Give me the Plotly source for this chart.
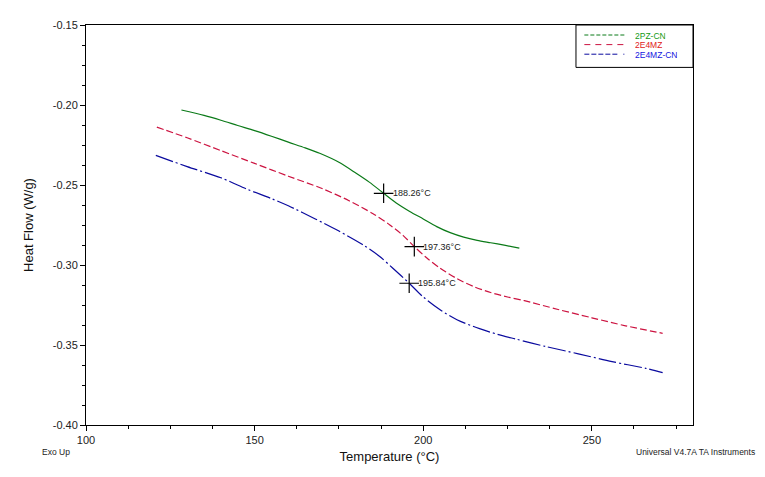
import plotly.graph_objects as go

# ---- data ----
series_names = ["2PZ-CN", "2E4MZ", "2E4MZ-CN"]

t_2pz_cn = [128.3, 135, 140, 145, 150, 155, 160, 165, 169.3, 175, 180, 184, 188.26,
            192, 196, 200, 204, 208, 212, 216, 220, 224, 228.5]
hf_2pz_cn = [-0.2031, -0.2065, -0.2095, -0.2128, -0.2160, -0.2195, -0.2232, -0.2268, -0.2302,
             -0.2358, -0.2425, -0.2482, -0.2552, -0.2612, -0.2665, -0.2712, -0.2760, -0.2798,
             -0.2826, -0.2846, -0.2861, -0.2876, -0.2895]

t_2e4mz = [121, 130, 140, 150, 160, 170, 178, 185, 190, 194, 197.36, 201, 205, 210, 215,
           220, 225, 230, 240, 250, 260, 271]
hf_2e4mz = [-0.2138, -0.2205, -0.2285, -0.2365, -0.2445, -0.2522, -0.2598, -0.2678, -0.2748,
            -0.2815, -0.2885, -0.2955, -0.3020, -0.3085, -0.3135, -0.3172, -0.3200, -0.3223,
            -0.3278, -0.3330, -0.3380, -0.3427]

t_2e4mz_cn = [120.7, 130, 140, 148, 155, 160, 168, 175, 182, 187, 191, 195.84, 200, 205, 210,
              216.7, 222, 227.5, 236.4, 246, 256, 266, 271]
hf_2e4mz_cn = [-0.2315, -0.2385, -0.2455, -0.2528, -0.2585, -0.2630, -0.2712, -0.2788, -0.2872,
               -0.2945, -0.3020, -0.3114, -0.3200, -0.3280, -0.3342, -0.3398, -0.3433, -0.3463,
               -0.3510, -0.3555, -0.3604, -0.3646, -0.3673]

tg_temp = [188.26, 197.36, 195.84]
tg_hf = [-0.2552, -0.2885, -0.3114]
tg_labels = ["188.26°C", "197.36°C", "195.84°C"]

x_ticks = [100, 150, 200, 250]
y_ticks = [-0.40, -0.35, -0.30, -0.25, -0.20, -0.15]

# ---- styles ----
line_colors = ["#0b7a18", "#cc1340", "#0a0a9e"]
legend_text_colors = ["#149a14", "#e01818", "#1414e0"]
dashes = ["solid", "7px,3px", "18px,3px,2px,3px"]
legend_dashes = ["4px,2px", "6px,5px", "5px,2px,5px,2px,5px,2px,5px,2px,5px,6px,1px,3px"]

fig = go.Figure()
for name, xs, ys, c, d in zip(series_names,
                               [t_2pz_cn, t_2e4mz, t_2e4mz_cn],
                               [hf_2pz_cn, hf_2e4mz, hf_2e4mz_cn],
                               line_colors, dashes):
    fig.add_trace(go.Scatter(x=xs, y=ys, mode="lines", name=name, showlegend=False,
                             line=dict(color=c, width=1.2, dash=d, shape="spline", smoothing=0.8)))

fig.add_trace(go.Scatter(x=tg_temp, y=tg_hf, mode="markers", showlegend=False,
                         marker=dict(symbol="cross-thin-open", size=14, color="black",
                                     line=dict(color="black", width=1.2))))

for tx, ty, lab in zip(tg_temp, tg_hf, tg_labels):
    fig.add_annotation(x=tx, y=ty, xref="x", yref="y", text=lab, showarrow=False,
                       xanchor="left", yanchor="middle", xshift=7,
                       font=dict(family="Liberation Sans, Arial", size=9, color="#222"))

# manual legend box (top-right inside plot frame)
fig.add_shape(type="rect", xref="paper", yref="paper", x0=0.8072, x1=1.0, y0=0.894, y1=1.0,
              line=dict(color="black", width=1), fillcolor="white", layer="above")
leg_rows = [0.975, 0.951, 0.927]
for name, yy, c, tc, d in zip(series_names, leg_rows, line_colors, legend_text_colors, legend_dashes):
    fig.add_shape(type="line", xref="paper", yref="paper", x0=0.821, x1=0.888, y0=yy, y1=yy,
                  line=dict(color=c, width=1, dash=d), layer="above")
    fig.add_annotation(xref="paper", yref="paper", x=0.9012, y=yy, text=name, showarrow=False,
                       xanchor="left", yanchor="middle", height=9,
                       font=dict(family="Liberation Sans, Arial", size=8.5, color=tc))

# bottom notes
fig.add_annotation(xref="paper", yref="paper", x=(40 - 86) / 607, y=(425 - 452) / 400,
                   text="Exo Up", showarrow=False, xanchor="left", yanchor="middle",
                   font=dict(family="Liberation Sans, Arial", size=8.5, color="#222"))
fig.add_annotation(xref="paper", yref="paper", x=(757 - 86) / 607, y=(425 - 452) / 400,
                   text="Universal V4.7A TA Instruments", showarrow=False,
                   xanchor="right", yanchor="middle",
                   font=dict(family="Liberation Sans, Arial", size=8.5, color="#222"))

axis_font = dict(family="Liberation Sans, Arial", size=11, color="#222")
fig.update_xaxes(range=[100, 280], tickvals=x_ticks, ticktext=[str(v) for v in x_ticks],
                 showline=True, linecolor="black", linewidth=1, mirror=True,
                 ticks="outside", ticklen=5, tickcolor="black", showgrid=False, zeroline=False,
                 tickfont=axis_font,
                 minor=dict(dtick=12.5, tick0=100, ticks="outside", ticklen=3, tickcolor="black",
                            showgrid=False),
                 title=dict(text="Temperature (°C)", standoff=6,
                            font=dict(family="Liberation Sans, Arial", size=13, color="#111")))
fig.update_yaxes(range=[-0.40, -0.15], tickvals=y_ticks, ticktext=[f"{v:.2f}" for v in y_ticks],
                 showline=True, linecolor="black", linewidth=1, mirror=True,
                 ticks="outside", ticklen=5, tickcolor="black", showgrid=False, zeroline=False,
                 tickfont=axis_font,
                 minor=dict(dtick=0.0125, tick0=-0.40, ticks="outside", ticklen=3, tickcolor="black",
                            showgrid=False),
                 title=dict(text="Heat Flow (W/g)", standoff=16,
                            font=dict(family="Liberation Sans, Arial", size=13, color="#111")))

fig.update_layout(width=765, height=477, autosize=False,
                  margin=dict(l=86, r=72, t=25, b=52, autoexpand=False),
                  paper_bgcolor="white", plot_bgcolor="white",
                  font=dict(family="Liberation Sans, Arial"))

fig.write_html("out.html")
